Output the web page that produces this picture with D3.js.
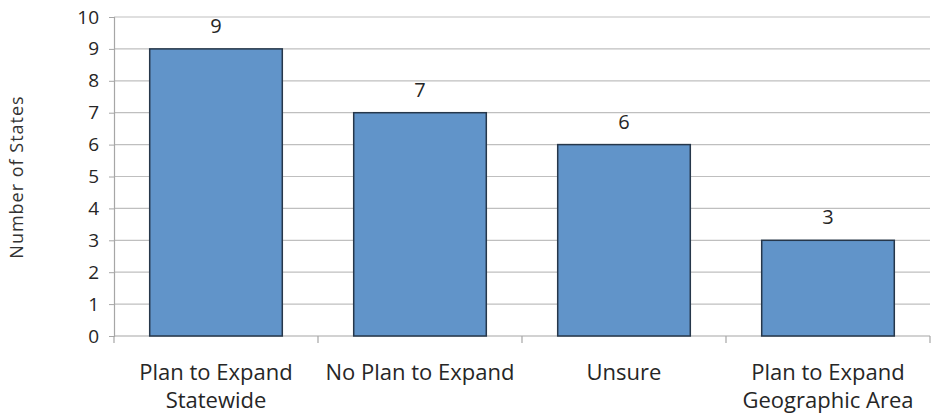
<!DOCTYPE html>
<html><head><meta charset="utf-8">
<script src="https://cdn.jsdelivr.net/npm/d3@7"></script>
<style>body{margin:0;background:#fff}svg{display:block}</style>
</head><body>
<svg id="c" width="932" height="418"></svg>
<script>
const categories = [["Plan to Expand","Statewide"],["No Plan to Expand"],["Unsure"],["Plan to Expand","Geographic Area"]];
const values = [9, 7, 6, 3];
const yTicks = [0,1,2,3,4,5,6,7,8,9,10];
const yTitle = "Number of States";

const svg = d3.select("#c");
const m = {left:114, right:930, top:17, bottom:336};
const x = d3.scaleBand().domain(d3.range(values.length)).range([m.left, m.right]).paddingInner(0.35).paddingOuter(0.175);
const xb = d3.scaleBand().domain(d3.range(values.length)).range([m.left, m.right]);
const y = d3.scaleLinear().domain([0,10]).range([m.bottom, m.top]);
const font = "'Open Sans', sans-serif";

// gridlines
svg.append("g").selectAll("line").data(yTicks.filter(d=>d>0)).join("line")
  .attr("x1", m.left).attr("x2", m.right).attr("y1", d=>y(d)).attr("y2", d=>y(d))
  .attr("stroke", "#bfbfbf").attr("stroke-width", 1.2);

// y axis
const ya = svg.append("g").attr("transform", `translate(${m.left},0)`)
  .call(d3.axisLeft(y).tickValues(yTicks).tickSize(5).tickPadding(10));
ya.select(".domain").attr("stroke","#a6a6a6").attr("stroke-width",1.2);
ya.selectAll(".tick line").attr("stroke","#a6a6a6");
ya.selectAll("text").attr("font-family", font).attr("font-size", 19).attr("fill","#262626");

// x axis
svg.append("line").attr("x1", m.left).attr("x2", m.right).attr("y1", m.bottom).attr("y2", m.bottom)
  .attr("stroke","#a6a6a6").attr("stroke-width",1.2);
const xt = d3.range(values.length+1).map(i => i<values.length ? xb(i) : m.right);
svg.append("g").selectAll("line").data(xt).join("line")
  .attr("x1", d=>d).attr("x2", d=>d).attr("y1", m.bottom).attr("y2", m.bottom+7)
  .attr("stroke","#a6a6a6").attr("stroke-width",1.2);

// bars
svg.append("g").selectAll("rect").data(values).join("rect")
  .attr("x", (d,i)=>x(i)).attr("width", x.bandwidth())
  .attr("y", d=>y(d)).attr("height", d=>y(0)-y(d))
  .attr("fill","#6194C9").attr("stroke","#26374a").attr("stroke-width",1.5);

// value labels
svg.append("g").selectAll("text").data(values).join("text")
  .attr("x", (d,i)=>x(i)+x.bandwidth()/2).attr("y", d=>y(d)-16)
  .attr("text-anchor","middle").attr("font-family", font).attr("font-size", 20).attr("fill","#262626")
  .text(d=>d);

// category labels
const cl = svg.append("g").selectAll("text").data(categories).join("text")
  .attr("x", (d,i)=>x(i)+x.bandwidth()/2).attr("y", 380)
  .attr("text-anchor","middle").attr("font-family", font).attr("font-size", 22).attr("fill","#262626");
cl.selectAll("tspan").data(d=>d).join("tspan")
  .attr("x", function(){return this.parentNode.getAttribute("x");})
  .attr("dy", (d,i)=> i===0 ? 0 : 28).text(d=>d);

// y title
svg.append("text").attr("transform", `translate(23,177) rotate(-90)`)
  .attr("text-anchor","middle").attr("font-family", font).attr("font-size",18)
  .attr("letter-spacing", 1).attr("fill","#333")
  .text(yTitle);
</script>
</body></html>
